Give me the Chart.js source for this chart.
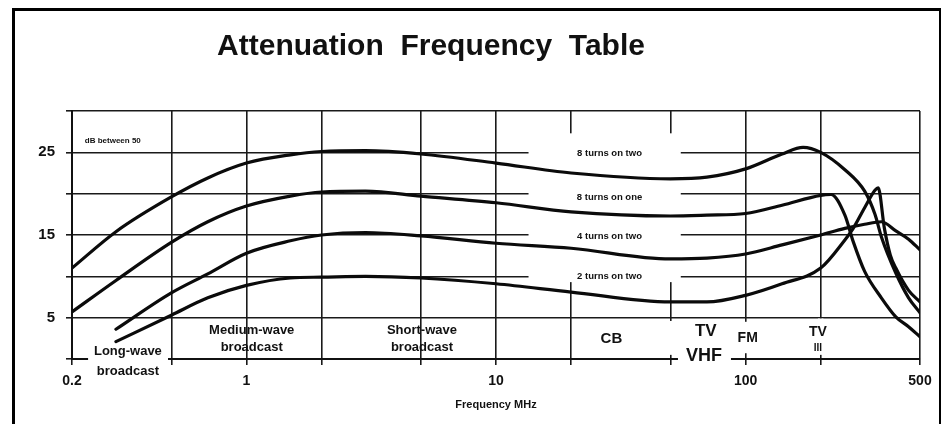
<!DOCTYPE html>
<html>
<head>
<meta charset="utf-8">
<title>Attenuation Frequency Table</title>
<script src="https://cdn.jsdelivr.net/npm/chart.js@4.4.1/dist/chart.umd.min.js"></script>
<style>
  html, body { margin: 0; padding: 0; background: #fff; }
  #wrap { width: 944px; height: 424px; }
</style>
</head>
<body>
<div id="wrap"><canvas id="attenuation" width="944" height="424"></canvas></div>
<script>
// frequency in MHz, attenuation in dB
const freqEightOnTwo = [0.2, 0.3, 0.5, 0.7, 1, 1.5, 2, 3, 5, 10, 20, 50, 70, 100, 140, 170, 200, 250, 300, 330, 350, 400, 450, 500];
const dbEightOnTwo   = [11.0, 15.4, 19.6, 21.9, 23.7, 24.7, 25.1, 25.2, 24.8, 23.7, 22.5, 21.8, 22.0, 23.0, 24.8, 25.6, 25.0, 22.9, 20.3, 17.5, 14.8, 10.4, 7.4, 5.6];

const freqEightOnOne = [0.2, 0.3, 0.5, 0.7, 1, 1.5, 2, 3, 5, 10, 20, 50, 70, 100, 140, 200, 220, 250, 270, 300, 350, 400, 450, 500];
const dbEightOnOne   = [5.7, 9.5, 14.1, 16.6, 18.5, 19.7, 20.2, 20.3, 19.7, 18.9, 17.8, 17.3, 17.4, 17.6, 18.6, 19.8, 19.9, 17.4, 14.2, 10.6, 7.4, 5.1, 3.9, 2.7];

const freqFourOnTwo = [0.3, 0.5, 0.7, 1, 1.5, 2, 3, 5, 10, 20, 50, 70, 100, 140, 200, 250, 300, 350, 400, 450, 500];
const dbFourOnTwo   = [3.6, 8.0, 10.3, 12.8, 14.3, 15.0, 15.3, 14.9, 14.0, 13.4, 12.1, 12.2, 12.7, 13.8, 15.0, 15.8, 16.3, 16.6, 15.5, 14.5, 13.2];

const freqTwoOnTwo = [0.3, 0.5, 0.7, 1, 1.5, 2, 3, 5, 10, 20, 50, 70, 100, 140, 200, 250, 270, 300, 330, 340, 360, 380, 400, 450, 500];
const dbTwoOnTwo   = [2.1, 5.3, 7.4, 8.9, 9.8, 9.9, 10.0, 9.8, 9.1, 8.1, 6.9, 6.9, 7.7, 9.1, 11.0, 14.4, 15.8, 18.3, 20.4, 20.7, 15.8, 12.6, 11.0, 8.3, 6.9];

const seriesNames = ['8 turns on two', '8 turns on one', '4 turns on two', '2 turns on two'];

const xTicks = [0.2, 0.5, 1, 2, 5, 10, 20, 50, 100, 200, 500];
const xLabels = [0.2, 1, 10, 100, 500];
const yLabels = [5, 15, 25];

// text printed on the chart: [text, MHz, dB, px size, align]
const notes = [
  ['dB between 50', 0.225, 26.4, 8, 'left'],
  ['8 turns on two', 28.5, 24.9, 9.5],
  ['8 turns on one', 28.5, 19.6, 9.5],
  ['4 turns on two', 28.5, 14.8, 9.5],
  ['2 turns on two', 28.5, 10.0, 9.5],
  ['Long-wave', 0.335, 0.95, 13],
  ['broadcast', 0.335, -1.45, 13],
  ['Medium-wave', 1.05, 3.5, 13],
  ['broadcast', 1.05, 1.45, 13],
  ['Short-wave', 5.05, 3.5, 13],
  ['broadcast', 5.05, 1.45, 13],
  ['CB', 29, 2.45, 15],
  ['TV', 69.3, 3.4, 17],
  ['VHF', 68.1, 0.3, 18],
  ['FM', 102, 2.5, 14],
  ['TV', 195, 3.3, 14],
  ['III', 195, 1.3, 10]
];

// where the printed grid is broken around that text: [MHz from, MHz to, dB from, dB to]
const gaps = [
  [13.5, 55, 9.3, 27.3],
  [0.232, 0.485, -0.6, 0.5],
  [53.6, 87.4, -0.6, 0.5],
  [48, 52, 0.5, 4.6],
  [97, 103, 0.7, 4.5],
  [195, 205, 0.5, 4.9]
];

const FONT = '"Liberation Sans", Arial, Helvetica, sans-serif';
const INK = '#111';

function toPoints(fs, vs) {
  return fs.map((f, i) => ({ x: f, y: vs[i] }));
}

const paper = {
  id: 'paper',
  beforeDatasetsDraw(chart) {
    const { ctx, scales: { x, y } } = chart;
    ctx.save();
    ctx.fillStyle = '#fff';
    gaps.forEach(g => {
      const x0 = x.getPixelForValue(g[0]), x1 = x.getPixelForValue(g[1]);
      const y0 = y.getPixelForValue(g[3]), y1 = y.getPixelForValue(g[2]);
      ctx.fillRect(x0, y0, x1 - x0, y1 - y0);
    });
    ctx.fillStyle = INK;
    ctx.textBaseline = 'middle';
    notes.forEach(n => {
      ctx.font = 'bold ' + n[3] + 'px ' + FONT;
      ctx.textAlign = n[4] || 'center';
      ctx.fillText(n[0], x.getPixelForValue(n[1]), y.getPixelForValue(n[2]));
    });
    ctx.restore();
  },
  afterDraw(chart) {
    const ctx = chart.ctx;
    ctx.save();
    // title
    ctx.fillStyle = INK;
    ctx.font = 'bold 30px ' + FONT;
    ctx.textAlign = 'center';
    ctx.textBaseline = 'alphabetic';
    ctx.fillText('Attenuation  Frequency  Table', 431, 55);
    // page frame
    ctx.strokeStyle = '#000';
    ctx.lineWidth = 3;
    ctx.beginPath();
    ctx.moveTo(13.5, 424);
    ctx.lineTo(13.5, 9.5);
    ctx.lineTo(941, 9.5);
    ctx.stroke();
    ctx.lineWidth = 2;
    ctx.beginPath();
    ctx.moveTo(940, 9);
    ctx.lineTo(940, 424);
    ctx.stroke();
    ctx.restore();
  }
};

const curves = [
  [freqEightOnTwo, dbEightOnTwo],
  [freqEightOnOne, dbEightOnOne],
  [freqFourOnTwo, dbFourOnTwo],
  [freqTwoOnTwo, dbTwoOnTwo]
];

new Chart(document.getElementById('attenuation'), {
  type: 'line',
  data: {
    datasets: curves.map((c, i) => ({
      label: seriesNames[i],
      data: toPoints(c[0], c[1]),
      borderColor: '#0b0b0b',
      borderWidth: 3.2,
      pointRadius: 0,
      fill: false,
      cubicInterpolationMode: 'monotone',
      borderCapStyle: 'round',
      borderJoinStyle: 'round'
    }))
  },
  options: {
    responsive: false,
    animation: false,
    devicePixelRatio: 1,
    layout: { padding: { left: 0, right: 24, top: 111, bottom: 0 } },
    plugins: {
      legend: { display: false },
      tooltip: { enabled: false },
      title: { display: false }
    },
    scales: {
      x: {
        type: 'logarithmic',
        min: 0.2,
        max: 500,
        afterFit: s => { s.height = 65; },
        afterBuildTicks: s => { s.ticks = xTicks.map(v => ({ value: v })); },
        ticks: {
          autoSkip: false,
          maxRotation: 0,
          minRotation: 0,
          padding: 8,
          color: INK,
          font: { family: FONT, size: 14, weight: 'bold' },
          callback: v => xLabels.includes(v) ? String(v) : ''
        },
        grid: { color: '#1a1a1a', lineWidth: 1.6, tickLength: 6, tickColor: '#1a1a1a' },
        border: { color: INK, width: 2 },
        title: {
          display: true,
          text: 'Frequency MHz',
          color: INK,
          font: { family: FONT, size: 11, weight: 'bold' },
          padding: { top: 0, bottom: 12 }
        }
      },
      y: {
        min: 0,
        max: 30,
        afterFit: s => { s.width = 72; },
        ticks: {
          stepSize: 5,
          autoSkip: false,
          padding: 11,
          color: INK,
          font: { family: FONT, size: 15, weight: 'bold' },
          callback: v => yLabels.includes(v) ? String(v) : ''
        },
        grid: { color: '#1a1a1a', lineWidth: 1.6, tickLength: 6, tickColor: '#1a1a1a' },
        border: { color: INK, width: 2 }
      }
    }
  },
  plugins: [paper]
});
</script>
</body>
</html>
